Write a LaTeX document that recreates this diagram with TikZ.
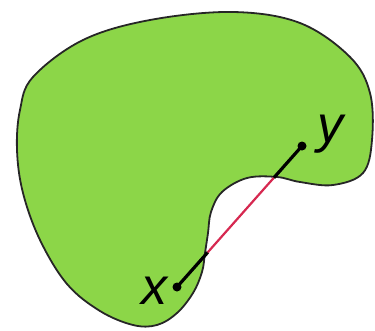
\documentclass[tikz,border=0pt]{standalone}
\usepackage{fontspec}
\setmainfont{Liberation Sans}
\usetikzlibrary{calc}
\definecolor{blob}{RGB}{140,214,72}
\definecolor{outside}{RGB}{214,40,80}
\begin{document}
\begin{tikzpicture}[x=1pt,y=-1pt,
  dot/.style={circle,fill=black,inner sep=0pt,minimum size=9pt},
  lbl/.style={font=\fontsize{52}{52}\selectfont\itshape,inner sep=0pt},
  seg/.style={line width=3.2pt},
  outline/.style={draw=black!85,line width=1.8pt,fill=blob}]
\useasboundingbox (0,0) rectangle (375,330);
\path[outline] plot[smooth cycle,tension=0.6] coordinates {
(33,77) (83,40) (150,20) (233,12) (300,23) (350,57) (370,93) (372,140)
(363,173) (333,185) (300,182) (277,177) (247,178) (222,192) (211,212)
(208,233) (205,253) (202,272) (193,293) (177,313) (157,325) (133,325)
(100,311) (67,284) (40,240) (23,193) (17,150) (20,110)};
\node[dot] (x) at (177,287) {};
\node[dot] (y) at (302,146) {};
\coordinate (a) at ($(x)!0.245!(y)$);
\coordinate (b) at ($(x)!0.775!(y)$);
\draw[seg,outside,line width=2.2pt] (a) -- (b);
\draw[seg] (x.center) -- (a);
\draw[seg] (b) -- (y.center);
\node[lbl] (xl) at (154,291) {x};
\node[lbl] (yl) at (330,134) {y};
\end{tikzpicture}
\end{document}
